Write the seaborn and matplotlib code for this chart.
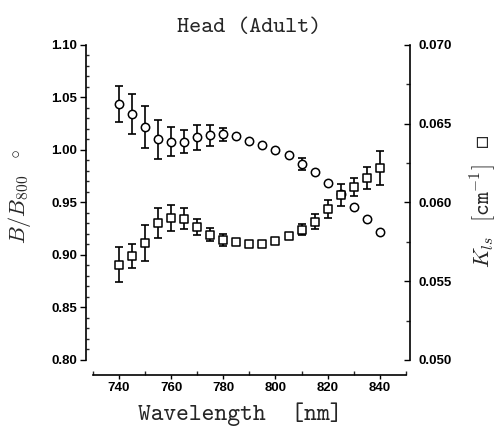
import matplotlib
matplotlib.use("Agg")
import matplotlib.pyplot as plt
from matplotlib.ticker import MultipleLocator, FormatStrFormatter
import numpy as np
import pandas as pd
import seaborn as sns

# ---- data ----
wavelength = [740, 745, 750, 755, 760, 765, 770, 775, 780, 785, 790,
              795, 800, 805, 810, 815, 820, 825, 830, 835, 840]
ratio = [1.044, 1.034, 1.022, 1.010, 1.008, 1.008, 1.012, 1.014, 1.015, 1.013, 1.009,
         1.005, 1.000, 0.995, 0.9865, 0.979, 0.969, 0.958, 0.946, 0.934, 0.922]
ratio_err = [0.017, 0.019, 0.020, 0.019, 0.014, 0.011, 0.012, 0.010, 0.006, 0.0, 0.0,
             0.0, 0.0, 0.0, 0.006, 0.0, 0.0, 0.0, 0.0, 0.0, 0.0]
kls = [0.05606, 0.05660, 0.05742, 0.05871, 0.05900, 0.05897, 0.05843, 0.05795, 0.05763,
       0.05748, 0.05738, 0.05738, 0.05754, 0.05786, 0.05827, 0.05879, 0.05957, 0.06049,
       0.06097, 0.06157, 0.06218]
kls_err = [0.00113, 0.00077, 0.00114, 0.00094, 0.00083, 0.00067, 0.00050, 0.00042, 0.00038,
           0.0, 0.0, 0.0, 0.0, 0.0, 0.00035, 0.00045, 0.00056, 0.00069, 0.00057, 0.00069,
           0.00108]

df = pd.DataFrame({"wavelength": wavelength, "ratio": ratio, "ratio_err": ratio_err,
                   "kls": kls, "kls_err": kls_err})

sns.set_theme(style="ticks")
plt.rcParams['font.family'] = ['Liberation Sans', 'DejaVu Sans']
plt.rcParams['mathtext.fontset'] = 'cm'

fig = plt.figure(figsize=(5, 4.28), dpi=100)
ax = fig.add_axes([0.1854, 0.1589, 0.6266, 0.736])
ax2 = ax.twinx()

ebkw = dict(fmt='none', ecolor='black', elinewidth=1.2, capsize=2.6, capthick=1.2, zorder=2)
ax.errorbar(df.wavelength, df.ratio, yerr=df.ratio_err, **ebkw)
sns.scatterplot(data=df, x="wavelength", y="ratio", ax=ax, marker='o', s=36,
                facecolor='white', edgecolor='black', linewidth=1.1, zorder=3)
ax2.errorbar(df.wavelength, df.kls, yerr=df.kls_err, **ebkw)
sns.scatterplot(data=df, x="wavelength", y="kls", ax=ax2, marker='s', s=28,
                facecolor='white', edgecolor='black', linewidth=1.1, zorder=3)

ax.set_xlim(730, 850)
ax.set_ylim(0.80, 1.10)
ax2.set_ylim(0.050, 0.070)

# spines
for a in (ax, ax2):
    a.spines['top'].set_visible(False)
    for s in a.spines.values():
        s.set_linewidth(1.2)
        s.set_color('black')
ax.spines['right'].set_visible(False)
ax2.spines['left'].set_visible(False)
ax2.spines['bottom'].set_visible(False)
ax.spines['left'].set_position(('outward', 5))
ax.spines['bottom'].set_position(('outward', 11))
ax2.spines['right'].set_position(('outward', 3))

# ticks
ax.xaxis.set_major_locator(MultipleLocator(20))
ax.xaxis.set_minor_locator(MultipleLocator(10))
ax.yaxis.set_major_locator(MultipleLocator(0.05))
ax.yaxis.set_minor_locator(MultipleLocator(0.01))
ax.yaxis.set_major_formatter(FormatStrFormatter('%.2f'))
ax2.yaxis.set_major_locator(MultipleLocator(0.005))
ax2.yaxis.set_minor_locator(MultipleLocator(0.0025))
ax2.yaxis.set_major_formatter(FormatStrFormatter('%.3f'))

lab = 9.5
ax.tick_params(axis='x', which='major', direction='out', length=3, width=1, labelsize=lab,
               pad=2, colors='black')
ax.tick_params(axis='x', which='minor', direction='in', length=3, width=1)
ax.tick_params(axis='y', which='major', direction='out', length=4, width=1, labelsize=lab,
               pad=2, colors='black')
ax.tick_params(axis='y', which='minor', direction='in', length=2, width=1)
ax2.tick_params(axis='y', which='major', direction='in', length=4, width=1, labelsize=lab,
                pad=6, colors='black')
ax2.tick_params(axis='y', which='minor', direction='in', length=3, width=1)
ax2.tick_params(axis='x', which='both', bottom=False, top=False, labelbottom=False)
for t in ax.get_xticklabels() + ax.get_yticklabels() + ax2.get_yticklabels():
    t.set_fontweight('bold')

# labels
ax.set_title('Head (Adult)', fontfamily='cmtt10', fontsize=16.5, pad=9)
ax.set_xlabel('Wavelength  [nm]', fontfamily='cmtt10', fontsize=17.5)
ax.xaxis.set_label_coords(0.47, -0.135)
ax.set_ylabel(r'$B/B_{\mathsf{800}}$  ◦', fontsize=16, family=['DejaVu Sans'])
ax.yaxis.set_label_coords(-0.19, 0.52)
ax2.set_ylabel(r'$K_{ls}$  $\mathtt{[cm}^{-1}\mathtt{]}$  ▫', fontsize=16,
               family=['DejaVu Sans'])
ax2.yaxis.set_label_coords(1.20, 0.505)

fig.savefig('out.png', dpi=100)
